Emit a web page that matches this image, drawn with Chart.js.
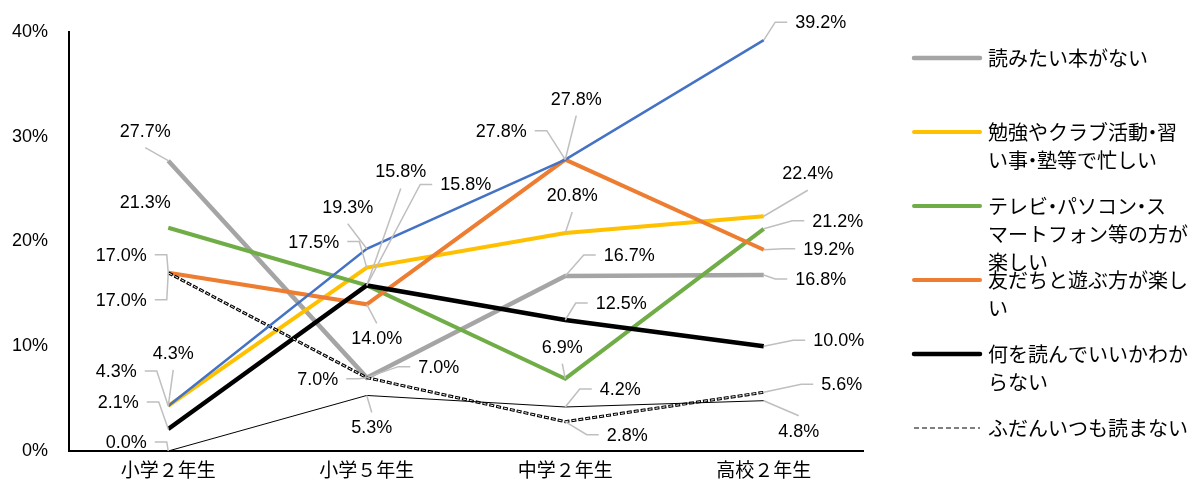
<!DOCTYPE html>
<html lang="ja">
<head>
<meta charset="utf-8">
<title>本を読まない理由</title>
<script src="https://cdn.jsdelivr.net/npm/chart.js@4/dist/chart.umd.min.js"></script>
<style>
  html, body { margin: 0; padding: 0; background: #fff; }
  #wrap { width: 1192px; height: 488px; }
</style>
</head>
<body>
<div id="wrap"><canvas id="myChart" width="1192" height="488"></canvas></div>
<script>
// Categorias (eixo x)
const gakunen = ['小学２年生', '小学５年生', '中学２年生', '高校２年生'];

// Valores de cada série (%)
const yomitaiHonGaNai = [27.7, 7.0, 16.7, 16.8];
const isogashii       = [4.3, 17.5, 20.8, 22.4];
const terebiNado      = [21.3, 15.8, 6.9, 21.2];
const tomodachi       = [17.0, 14.0, 27.8, 19.2];
const wakaranai       = [2.1, 15.8, 12.5, 10.0];
const fudanYomanai    = [17.0, 7.0, 2.8, 5.6];
const sonota          = [4.3, 19.3, 27.8, 39.2];   // linha azul, sem legenda
const mukaitou        = [0.0, 5.3, 4.2, 4.8];      // linha fina, sem legenda

// Ticks do eixo y
const yTicks = [0, 10, 20, 30, 40];

// Posição dos rótulos em relação ao ponto: [dx, dy, tipo de linha guia]
const posGray   = [[-23, -29, 'v'], [72, -10, 'h'], [64, -20, 'h'], [57, 5, 'h']];
const posYellow = [[5, -52, 'v'], [-53, -25, 'h'], [7, -37, 'v'], [44, -42, 'v']];
const posGreen  = [[-23, -25, ''], [34, -113, 'v'], [-3, -31, 'v'], [74, -7, 'h']];
const posOrange = [[-47, -17, 'h'], [10, 35, 'v'], [-64, -28, 'h'], [65, 0, 'h']];
const posBlack  = [[-50, -26, 'h'], [99, -100, 'h'], [56, -16, 'h'], [75, -5, 'h']];
const posDashed = [[-47, 28, 'h'], [-49, 2, 'h'], [62, 14, 'h'], [78, -7, 'h']];
const posBlue   = [[-52, -34, 'h'], [-19, -41, 'v'], [11, -60, 'v'], [57, -17, 'h']];
const posThin   = [[-42, -8, 'h'], [5, 33, 'v'], [55, -17, 'h'], [35, 31, 'v']];

const fonteNum = '18px "Liberation Sans", Arial, sans-serif';
const tamLegenda = 20;
const fonteJa = tamLegenda + 'px "Noto Sans CJK JP", sans-serif';

function serie(label, data, cor, largura, pos, extra) {
    return Object.assign({
        label: label,
        data: data,
        borderColor: cor,
        backgroundColor: cor,
        borderWidth: largura,
        pointRadius: 0,
        pointHoverRadius: 0,
        tension: 0,
        fill: false,
        clip: false,
        labelPos: pos
    }, extra || {});
}

const datasets = [
    serie('読みたい本がない', yomitaiHonGaNai, '#A5A5A5', 4.5, posGray),
    serie('勉強やクラブ活動・習い事・塾等で忙しい', isogashii, '#FFC000', 4, posYellow),
    serie('テレビ・パソコン・スマートフォン等の方が楽しい', terebiNado, '#70AD47', 4, posGreen),
    serie('友だちと遊ぶ方が楽しい', tomodachi, '#ED7D31', 4, posOrange),
    serie('何を読んでいいかわからない', wakaranai, '#000000', 4.5, posBlack),
    serie('ふだんいつも読まない', fudanYomanai, '#000000', 3, posDashed,
          { borderDash: [5, 2], outlineDash: true, legendColor: '#7F7F7F', legendWidth: 2 }),
    serie('その他', sonota, '#4472C4', 2.5, posBlue, { noLegend: true }),
    serie('無回答', mukaitou, '#000000', 1, posThin, { noLegend: true })
];

// Ordem de desenho igual ao Excel: primeira série por baixo
datasets.forEach((ds, i) => { ds.order = datasets.length - i; });

// Traço branco por dentro da linha tracejada
const contornoPlugin = {
    id: 'contorno',
    afterDatasetDraw(chart, args) {
        const ds = chart.data.datasets[args.index];
        if (!ds.outlineDash) return;
        const pts = args.meta.data;
        const ctx = chart.ctx;
        ctx.save();
        ctx.strokeStyle = '#FFFFFF';
        ctx.lineWidth = 1;
        ctx.setLineDash([3, 4]);
        ctx.lineDashOffset = -1;
        ctx.beginPath();
        pts.forEach((p, i) => i === 0 ? ctx.moveTo(p.x, p.y) : ctx.lineTo(p.x, p.y));
        ctx.stroke();
        ctx.restore();
    }
};

// Rótulos de dados com linhas guia
const rotulosPlugin = {
    id: 'rotulos',
    afterDatasetsDraw(chart) {
        const ctx = chart.ctx;
        ctx.save();
        ctx.font = fonteNum;
        chart.data.datasets.forEach((ds, di) => {
            const meta = chart.getDatasetMeta(di);
            meta.data.forEach((pt, i) => {
                const [dx, dy, tipo] = ds.labelPos[i];
                const texto = ds.data[i].toFixed(1) + '%';
                const cx = pt.x + dx;
                const cy = pt.y + dy;
                const w = ctx.measureText(texto).width;
                if (tipo) {
                    ctx.strokeStyle = '#BFBFBF';
                    ctx.lineWidth = 1.5;
                    ctx.setLineDash([]);
                    ctx.beginPath();
                    if (tipo === 'h') {
                        const lado = pt.x < cx ? -1 : 1;
                        const sx = cx + lado * (w / 2 + 8);
                        let ex = sx + lado * 12;
                        if ((ex - pt.x) * lado > 0) ex = pt.x;
                        ctx.moveTo(sx, cy - 1);
                        ctx.lineTo(ex, cy - 1);
                        ctx.lineTo(pt.x, pt.y);
                    } else {
                        const lado = pt.y < cy ? -1 : 1;
                        ctx.moveTo(cx, cy + lado * 16);
                        ctx.lineTo(pt.x, pt.y);
                    }
                    ctx.stroke();
                }
                ctx.fillStyle = '#000000';
                ctx.textAlign = 'center';
                ctx.textBaseline = 'middle';
                ctx.fillText(texto, cx, cy);
            });
        });
        ctx.restore();
    }
};

// Legenda à direita: "・" estreito e quebra de linha com kinsoku simples
const naoIniciaLinha = 'ー・、。ぁぃぅぇぉっゃゅょァィゥェォッャュョ';

function larguraChar(ctx, c) {
    return c === '・' ? tamLegenda * 0.45 : ctx.measureText(c).width;
}

function larguraTexto(ctx, s) {
    let w = 0;
    for (const c of s) w += larguraChar(ctx, c);
    return w;
}

function quebraTexto(ctx, texto, maxW) {
    const linhas = [];
    let atual = '';
    for (const c of texto) {
        if (atual && larguraTexto(ctx, atual + c) > maxW) {
            if (naoIniciaLinha.includes(c) && atual.length > 1) {
                linhas.push(atual.slice(0, -1));
                atual = atual.slice(-1) + c;
            } else {
                linhas.push(atual);
                atual = c;
            }
        } else {
            atual += c;
        }
    }
    if (atual) linhas.push(atual);
    return linhas;
}

function escreveLinha(ctx, s, x, y) {
    for (const c of s) {
        const w = larguraChar(ctx, c);
        ctx.textAlign = 'center';
        ctx.fillText(c, x + w / 2, y);
        x += w;
    }
}

const legendaPlugin = {
    id: 'legenda',
    afterDraw(chart) {
        const ctx = chart.ctx;
        const x0 = chart.chartArea.right + 49;
        const topo = 58;
        const passo = 74;
        ctx.save();
        ctx.font = fonteJa;
        ctx.textBaseline = 'middle';
        let n = 0;
        chart.data.datasets.forEach(ds => {
            if (ds.noLegend) return;
            const y = topo + n * passo;
            ctx.strokeStyle = ds.legendColor || ds.borderColor;
            ctx.lineWidth = ds.legendWidth || ds.borderWidth;
            ctx.lineCap = ds.borderDash ? 'butt' : 'round';
            ctx.setLineDash(ds.borderDash ? [5, 3] : []);
            ctx.beginPath();
            ctx.moveTo(x0 + 2, y);
            ctx.lineTo(x0 + 68, y);
            ctx.stroke();
            ctx.setLineDash([]);
            ctx.fillStyle = '#000000';
            quebraTexto(ctx, ds.label, 202).forEach((ln, k) => {
                escreveLinha(ctx, ln, x0 + 76, y + k * 28);
            });
            n++;
        });
        ctx.restore();
    }
};

new Chart(document.getElementById('myChart'), {
    type: 'line',
    data: { labels: gakunen, datasets: datasets },
    plugins: [contornoPlugin, rotulosPlugin, legendaPlugin],
    options: {
        responsive: false,
        animation: false,
        events: [],
        layout: { padding: { top: 30, right: 329, bottom: 0, left: 0 } },
        plugins: {
            legend: { display: false },
            tooltip: { enabled: false },
            title: { display: false }
        },
        scales: {
            x: {
                offset: true,
                grid: { display: false, drawTicks: false },
                border: { display: true, color: '#000000', width: 2 },
                ticks: { color: '#000000', font: { family: '"Noto Sans CJK JP", sans-serif', size: 19 }, padding: 7 },
                afterFit: s => { s.height = 37; }
            },
            y: {
                min: yTicks[0],
                max: yTicks[yTicks.length - 1],
                afterBuildTicks: s => { s.ticks = yTicks.map(v => ({ value: v })); },
                grid: { display: false, drawTicks: false },
                border: { display: true, color: '#000000', width: 2 },
                ticks: {
                    color: '#000000',
                    font: { family: '"Liberation Sans", Arial, sans-serif', size: 18 },
                    padding: 21,
                    callback: v => v + '%'
                },
                afterFit: s => { s.width = 69; }
            }
        }
    }
});
</script>
</body>
</html>
